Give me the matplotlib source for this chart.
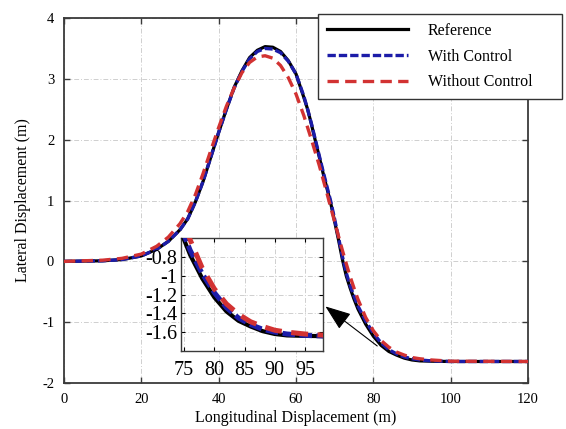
import matplotlib
matplotlib.use("Agg")
import matplotlib.pyplot as plt

# Longitudinal positions (m), shared by all three series
x_pos = [0, 10, 15, 20, 24, 27, 30, 32, 34, 36, 38, 40, 42, 44, 46, 48, 50, 52,
         54, 56, 58, 60, 62, 63, 64, 65, 66, 67, 68, 69, 70, 71, 72, 73, 74, 75,
         76, 78, 80, 82, 84, 86, 88, 90, 92, 95, 100, 120]

# Lateral displacement (m)
y_reference = [0, 0.01, 0.03, 0.09, 0.2, 0.33, 0.52, 0.7, 0.98, 1.32, 1.72, 2.12,
               2.5, 2.86, 3.13, 3.35, 3.47, 3.53, 3.52, 3.45, 3.3, 3.08, 2.7, 2.5,
               2.25, 1.98, 1.72, 1.45, 1.2, 0.95, 0.65, 0.35, 0.03, -0.24, -0.44,
               -0.62, -0.78, -1.03, -1.23, -1.38, -1.48, -1.54, -1.59, -1.62,
               -1.635, -1.64, -1.645, -1.645]
y_with_ctrl = [0, 0.01, 0.03, 0.09, 0.2, 0.33, 0.52, 0.7, 0.98, 1.32, 1.72, 2.12,
               2.5, 2.85, 3.12, 3.33, 3.45, 3.5, 3.49, 3.43, 3.29, 3.08, 2.72, 2.5,
               2.26, 2.0, 1.74, 1.48, 1.23, 0.98, 0.69, 0.39, 0.08, -0.19, -0.4,
               -0.57, -0.73, -0.98, -1.18, -1.34, -1.45, -1.52, -1.57, -1.6,
               -1.62, -1.635, -1.645, -1.645]
y_without_ctrl = [0, 0.02, 0.05, 0.12, 0.25, 0.4, 0.62, 0.82, 1.1, 1.45, 1.83, 2.2,
                  2.55, 2.85, 3.1, 3.27, 3.36, 3.38, 3.34, 3.22, 3.02, 2.75, 2.4,
                  2.2, 2.0, 1.79, 1.58, 1.35, 1.12, 0.88, 0.65, 0.41, 0.18, -0.04,
                  -0.25, -0.44, -0.62, -0.92, -1.14, -1.3, -1.41, -1.49, -1.54,
                  -1.58, -1.6, -1.62, -1.64, -1.645]

labels = ["Reference", "With Control", "Without Control"]
x_ticks = [0, 20, 40, 60, 80, 100, 120]
y_ticks = [-2, -1, 0, 1, 2, 3, 4]
inset_x_ticks = [75, 80, 85, 90, 95]
inset_y_ticks = [-1.6, -1.4, -1.2, -1.0, -0.8]
inset_y_labels = ["-1.6", "-1.4", "-1.2", "-1", "-0.8"]

plt.rcParams["font.family"] = ["Liberation Serif", "DejaVu Serif"]
plt.rcParams["axes.unicode_minus"] = False

BLACK = "#000000"
BLUE = "#1c1ca8"
RED = "#d23232"
SPINE = "#3a3a3a"
GRID = dict(color="#cfcfcf", linestyle=(0, (5, 2, 1, 2)), linewidth=0.7)

fig = plt.figure(figsize=(5.66, 4.29), dpi=100)
ax = fig.add_axes([0.113, 0.107, 0.820, 0.851])

ax.plot(x_pos, y_reference, color=BLACK, lw=2.3, label=labels[0], zorder=3)
ax.plot(x_pos, y_with_ctrl, color=BLUE, lw=2.4, linestyle=(0, (2.5, 0.9)),
        label=labels[1], zorder=4)
ax.plot(x_pos, y_without_ctrl, color=RED, lw=2.4, linestyle=(0, (3.4, 1.9)),
        label=labels[2], zorder=5)

ax.set_xlim(0, 120)
ax.set_ylim(-2, 4)
ax.set_xticks(x_ticks)
ax.set_yticks(y_ticks)
ax.grid(True, **GRID)
ax.tick_params(direction="in", top=True, right=True, length=4, width=1,
               color=SPINE, labelsize=10.5, pad=7)
for sp in ax.spines.values():
    sp.set_color(SPINE)
    sp.set_linewidth(1.3)
ax.set_xlabel("Longitudinal Displacement (m)", fontsize=11.5, labelpad=3)
ax.set_ylabel("Lateral Displacement (m)", fontsize=11.5, labelpad=8)

# arrow pointing from the settling region to the zoomed view
ax.annotate("", xy=(67.6, -0.74), xytext=(81.0, -1.39),
            arrowprops=dict(arrowstyle="-|>,head_length=1.6,head_width=0.6",
                            color="black", lw=0.8, shrinkA=0, shrinkB=0),
            zorder=6)

# legend box sticks out past the right spine, as in the original
leg = fig.legend(loc="upper left", bbox_to_anchor=(0.562, 0.767, 0.431, 0.2),
                 mode="expand", fontsize=11.5, handlelength=5.1,
                 handletextpad=1.2, borderpad=0.55, labelspacing=0.6,
                 borderaxespad=0, fancybox=False, framealpha=1)
leg.get_frame().set_edgecolor("#333333")
leg.get_frame().set_linewidth(1.0)

# zoomed inset
axi = fig.add_axes([0.320, 0.182, 0.251, 0.263])
axi.plot(x_pos, y_reference, color=BLACK, lw=3.0, zorder=3)
axi.plot(x_pos, y_with_ctrl, color=BLUE, lw=3.6, linestyle=(0, (2.5, 0.9)), zorder=4)
axi.plot(x_pos, y_without_ctrl, color=RED, lw=3.6, linestyle=(0, (3.4, 1.9)), zorder=5)
axi.set_xlim(74.5, 98)
axi.set_ylim(-1.8, -0.6)
axi.set_xticks(inset_x_ticks)
axi.set_yticks(inset_y_ticks)
axi.set_yticklabels(inset_y_labels)
axi.grid(True, **GRID)
axi.tick_params(direction="in", top=True, right=True, length=3, width=0.8,
                labelsize=14.5)
axi.tick_params(axis="y", pad=3)
axi.tick_params(axis="x", pad=7)
for sp in axi.spines.values():
    sp.set_color(SPINE)
    sp.set_linewidth(1.0)

fig.savefig("out.png", dpi=100)
